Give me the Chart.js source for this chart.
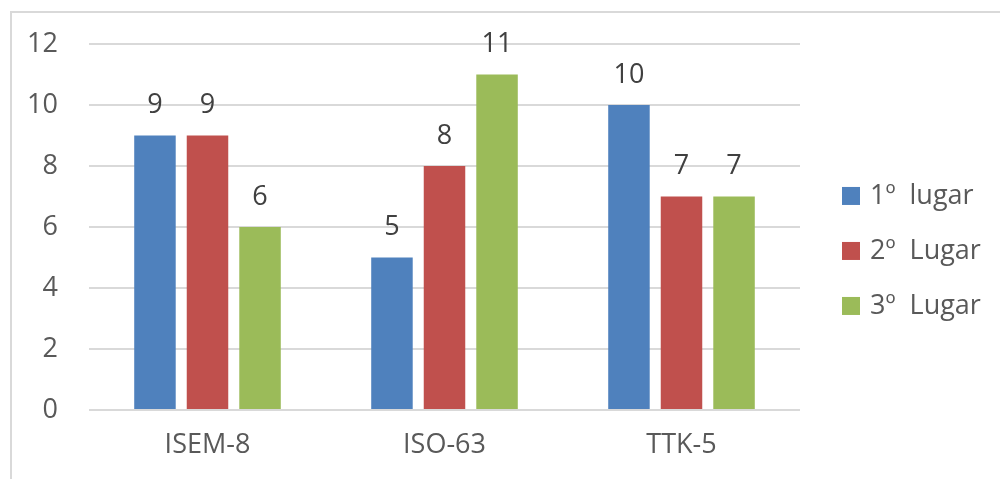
<!DOCTYPE html>
<html>
<head>
<meta charset="utf-8">
<script src="https://cdn.jsdelivr.net/npm/chart.js@4/dist/chart.umd.min.js"></script>
<style>
  html, body { margin: 0; padding: 0; background: #fff; overflow: hidden; }
  #wrap { position: relative; width: 1000px; height: 479px; }
  #frame {
    position: absolute; left: 10px; top: 11px;
    width: 1200px; height: 700px;
    border: 2px solid #d9d9d9;
  }
  canvas { position: absolute; left: 0; top: 0; }
</style>
</head>
<body>
<div id="wrap">
  <div id="frame"></div>
  <canvas id="grafico" width="1000" height="479"></canvas>
</div>
<script>
const categorias = ["ISEM-8", "ISO-63", "TTK-5"];
const primeiro = [9, 5, 10];
const segundo = [9, 8, 7];
const terceiro = [6, 11, 7];
const rotulosSeries = ["1º  lugar", "2º  Lugar", "3º  Lugar"];
const cores = ["#4f81bd", "#c0504d", "#9bbb59"];

const fonte = "'Open Sans', sans-serif";
const tamanho = 27;

// valores em cima de cada barra
const rotulosBarras = {
  id: "rotulosBarras",
  afterDatasetsDraw(chart) {
    const ctx = chart.ctx;
    ctx.save();
    ctx.font = tamanho + "px " + fonte;
    ctx.fillStyle = "#404040";
    ctx.textAlign = "center";
    ctx.textBaseline = "middle";
    chart.data.datasets.forEach((ds, i) => {
      chart.getDatasetMeta(i).data.forEach((bar, j) => {
        ctx.fillText(ds.data[j], bar.x, bar.y - 30);
      });
    });
    ctx.restore();
  }
};

// legenda à direita, ao lado da área do gráfico
const legendaLateral = {
  id: "legendaLateral",
  afterDraw(chart) {
    const ctx = chart.ctx;
    const area = chart.chartArea;
    const x = area.right + 42;
    const y0 = area.top + 152;
    ctx.save();
    ctx.font = tamanho + "px " + fonte;
    ctx.textBaseline = "middle";
    ctx.textAlign = "left";
    chart.data.datasets.forEach((ds, i) => {
      const y = y0 + i * 55;
      ctx.fillStyle = ds.backgroundColor;
      ctx.fillRect(x, y - 9, 18, 18);
      ctx.fillStyle = "#595959";
      ctx.fillText(ds.label, x + 28, y);
    });
    ctx.restore();
  }
};

new Chart(document.getElementById("grafico"), {
  type: "bar",
  data: {
    labels: categorias,
    datasets: [
      { label: rotulosSeries[0], data: primeiro, backgroundColor: cores[0] },
      { label: rotulosSeries[1], data: segundo, backgroundColor: cores[1] },
      { label: rotulosSeries[2], data: terceiro, backgroundColor: cores[2] }
    ]
  },
  options: {
    responsive: false,
    animation: false,
    categoryPercentage: 0.665,
    barPercentage: 0.79,
    layout: { padding: { left: 0, top: 20, right: 200, bottom: 0 } },
    plugins: {
      legend: { display: false },
      tooltip: { enabled: false }
    },
    scales: {
      x: {
        grid: { display: false, drawTicks: false },
        border: { display: false },
        ticks: { color: "#595959", font: { family: fonte, size: tamanho }, padding: 19 },
        afterFit(scale) { scale.height = 69; }
      },
      y: {
        min: 0,
        max: 12,
        grid: { color: "#d9d9d9", lineWidth: 2, drawTicks: false },
        border: { display: false },
        // lineHeight menor: o topo da área fica em metade da linha + padding
        ticks: { stepSize: 2, color: "#595959", font: { family: fonte, size: tamanho, lineHeight: 0.96 }, padding: 31 },
        afterFit(scale) { scale.width = 89; }
      }
    }
  },
  plugins: [rotulosBarras, legendaLateral]
});
</script>
</body>
</html>
